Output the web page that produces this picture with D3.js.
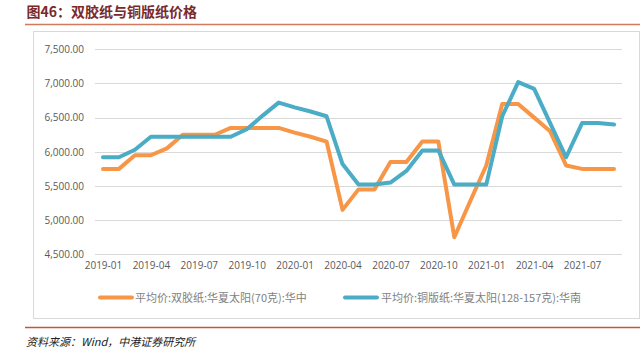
<!DOCTYPE html>
<html><head><meta charset="utf-8">
<script src="https://cdn.jsdelivr.net/npm/d3@7/dist/d3.min.js"></script>
<style>
html,body{margin:0;padding:0;background:#fff;}
svg{display:block;}
</style>
</head><body>
<svg id="c" width="640" height="357"></svg>
<script>
const months = ["2019-01","2019-02","2019-03","2019-04","2019-05","2019-06","2019-07","2019-08","2019-09","2019-10","2019-11","2019-12",
"2020-01","2020-02","2020-03","2020-04","2020-05","2020-06","2020-07","2020-08","2020-09","2020-10","2020-11","2020-12",
"2021-01","2021-02","2021-03","2021-04","2021-05","2021-06","2021-07","2021-08","2021-09"];
const tickLabels = ["2019-01","2019-04","2019-07","2019-10","2020-01","2020-04","2020-07","2020-10","2021-01","2021-04","2021-07"];
const yTicks = [4500,5000,5500,6000,6500,7000,7500];
const offsetPaper = [5750,5750,5950,5950,6050,6250,6250,6250,6350,6350,6350,6350,
6280,6220,6150,5150,5450,5450,5850,5850,6150,6150,4750,5280,
5800,6700,6700,6500,6300,5800,5750,5750,5750];
const coatedPaper = [5920,5920,6030,6220,6220,6220,6220,6220,6220,6330,6530,6720,
6650,6590,6520,5820,5520,5520,5550,5720,6020,6020,5520,5520,
5520,6520,7020,6920,6420,5920,6420,6420,6400];
const seriesNames = ["平均价:双胶纸:华夏太阳(70克):华中","平均价:铜版纸:华夏太阳(128-157克):华南"];
const colors = ["#F79646","#4BACC6"];
const title = "图46：双胶纸与铜版纸价格";
const source = "资料来源：Wind，中港证券研究所";

const svg = d3.select("#c");
const cjk = "'Noto Sans CJK SC','Noto Sans',sans-serif";
const num = "'Open Sans','Noto Sans',sans-serif";

// title & rules
svg.append("text").attr("x",26.5).attr("y",17).text(title)
  .attr("font-family",cjk).attr("font-weight","bold").attr("font-size",14).attr("fill","#7a2a2a");
svg.append("line").attr("x1",25).attr("x2",640).attr("y1",24.5).attr("y2",24.5).attr("stroke","#d27a5e").attr("stroke-width",1.3);
svg.append("line").attr("x1",25).attr("x2",640).attr("y1",327.5).attr("y2",327.5).attr("stroke","#c0583e").attr("stroke-width",1.3);
svg.append("text").attr("x",26).attr("y",346).text(source)
  .attr("font-family",cjk).attr("font-style","italic").attr("font-size",11).attr("fill","#222");

// chart box
svg.append("rect").attr("x",33.5).attr("y",31.5).attr("width",606).attr("height",287)
  .attr("fill","none").attr("stroke","#d9d9d9").attr("stroke-width",1);

const x = d3.scalePoint().domain(months).range([95,622]).padding(0.5);
const y = d3.scaleLinear().domain([4500,7500]).range([254.3,49.3]);

// grid
svg.append("g").selectAll("line").data(yTicks).join("line")
  .attr("x1",95).attr("x2",622).attr("y1",d=>Math.round(y(d))+0.5).attr("y2",d=>Math.round(y(d))+0.5)
  .attr("stroke","#d9d9d9").attr("stroke-width",1);

// y axis
const yAxis = d3.axisLeft(y).tickValues(yTicks).tickFormat(d3.format(",.2f")).tickSize(0).tickPadding(0);
const gy = svg.append("g").attr("transform","translate(84,0)").call(yAxis);
gy.select(".domain").remove();
gy.selectAll("text").attr("font-family",num).attr("font-size",10).attr("fill","#595959");

// x axis
const xAxis = d3.axisBottom(x).tickValues(tickLabels).tickSize(0).tickPadding(0);
const gx = svg.append("g").attr("transform","translate(0,262)").call(xAxis);
gx.select(".domain").remove();
gx.selectAll("text").attr("font-family",num).attr("font-size",10).attr("fill","#595959");

// lines
const line = d3.line().x((d,i)=>x(months[i])).y(d=>y(d));
[offsetPaper, coatedPaper].forEach((s,k)=>{
  svg.append("path").datum(s).attr("d",line).attr("fill","none")
    .attr("stroke",colors[k]).attr("stroke-width",4).attr("stroke-linejoin","round").attr("stroke-linecap","round");
});

// legend
const leg = [{x:100,tx:135},{x:345,tx:381}];
seriesNames.forEach((n,k)=>{
  svg.append("line").attr("x1",leg[k].x).attr("x2",leg[k].x+32).attr("y1",297.5).attr("y2",297.5)
    .attr("stroke",colors[k]).attr("stroke-width",4).attr("stroke-linecap","round");
  svg.append("text").attr("x",leg[k].tx).attr("y",301.5).text(n)
    .attr("font-family",cjk).attr("font-size",11).attr("fill","#7f7f7f");
});
</script>
</body></html>
